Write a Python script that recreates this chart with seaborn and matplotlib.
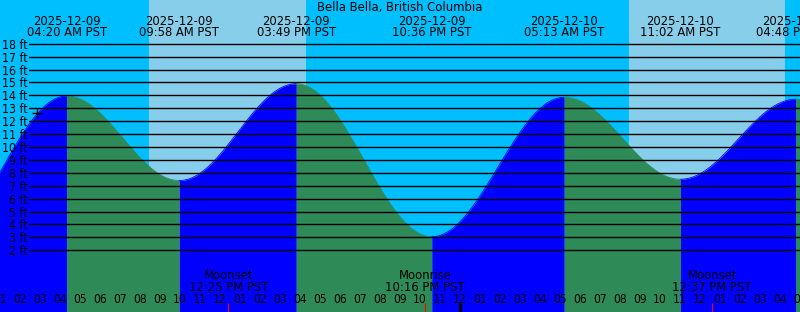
import numpy as np
import pandas as pd
import matplotlib
matplotlib.use("Agg")
import matplotlib.pyplot as plt
from matplotlib import font_manager
import seaborn as sns

# ---------------- data ----------------
station = "Bella Bella, British Columbia"
extreme_times = ["2025-12-08 21:50", "2025-12-09 04:20", "2025-12-09 09:58",
                 "2025-12-09 15:49", "2025-12-09 22:36", "2025-12-10 05:13",
                 "2025-12-10 11:02", "2025-12-10 16:48", "2025-12-10 23:20"]
extreme_heights = [2.6, 13.95, 7.4, 14.9, 3.05, 13.85, 7.5, 13.7, 2.8]
labelled_extremes = [1, 2, 3, 4, 5, 6, 7]
sunrise_times = ["2025-12-09 08:26", "2025-12-10 08:26"]
sunset_times = ["2025-12-09 16:17", "2025-12-10 16:17"]
moon_events = ["Moonset", "Moonrise", "Moonset"]
moon_times = ["2025-12-09 12:25", "2025-12-09 22:16", "2025-12-10 12:37"]
now_time = "2025-12-09 02:51"
now_height = 12.66
ft_levels = list(range(2, 19))
hour_ticks = list(range(1, 42))
midnight_ticks = [24]

# ---------------- helpers ----------------
origin = pd.Timestamp("2025-12-09 00:00")
def hrs(t):
    return (pd.Timestamp(t) - origin) / pd.Timedelta(hours=1)

PX_PER_FT = 12.91
def py(px):  # pixel row -> feet (layout helper)
    return 18 - (px - 43.7) / PX_PER_FT
def pxh(px):  # pixel column -> hours (layout helper)
    return (px + 20.2) / 20.0

NIGHT = "#00BFFF"
DAY = "#87CEEB"
RISE = "#0000FF"
FALL = "#2E8B57"

sns.set_theme(style="white")
plt.rcParams["font.family"] = ["DejaVu Sans"]

condensed = any(f.name == "DejaVu Sans" and f.stretch == "condensed"
                for f in font_manager.fontManager.ttflist)
if condensed:
    STRETCH = "condensed"
    FS_MAIN, FS_HOUR, FS_FT = 9.3, 8.6, 8.8
else:
    STRETCH = "normal"
    FS_MAIN, FS_HOUR, FS_FT = 8.4, 7.8, 8.0

def txt(x, y, s, fs, ha="center"):
    ax.text(x, y, s, ha=ha, va="baseline", fontsize=fs, fontstretch=STRETCH,
            color="black", zorder=4)

fig = plt.figure(figsize=(8, 3.12), dpi=100)
ax = fig.add_axes([0, 0, 1, 1])
ax.set_facecolor(NIGHT)
xlo, xhi = pxh(0), pxh(800)
ylo, yhi = py(312), py(0)
ax.set_xlim(xlo, xhi)
ax.set_ylim(ylo, yhi)
for s in ax.spines.values():
    s.set_visible(False)

# daylight
for sr, ss in zip(sunrise_times, sunset_times):
    ax.axvspan(hrs(sr), hrs(ss), color=DAY, lw=0, zorder=0.5)

# tide curve (cosine interpolation between extrema)
et = np.array([hrs(t) for t in extreme_times])
eh = np.array(extreme_heights)
for i in range(len(et) - 1):
    t = np.linspace(et[i], et[i + 1], 200)
    f = (1 - np.cos(np.pi * (t - et[i]) / (et[i + 1] - et[i]))) / 2
    h = eh[i] + (eh[i + 1] - eh[i]) * f
    col = RISE if eh[i + 1] > eh[i] else FALL
    ax.fill_between(t, h, ylo - 1, color=col, lw=0, zorder=1)
    sns.lineplot(x=t, y=h, color=col, lw=0.6, ax=ax, zorder=1.1, sort=False)

# horizontal grid lines and labels
for lv in ft_levels:
    ax.axhline(lv, xmin=29 / 800, xmax=1, color="black", lw=1.0, zorder=3)
    txt(pxh(27.5), lv - 5.0 / PX_PER_FT, f"{lv} ft", FS_FT, ha="right")

# current time marker
sns.scatterplot(x=[hrs(now_time)], y=[now_height], marker="+", s=60,
                color="black", linewidth=1.0, ax=ax, zorder=5)

# title
txt(pxh(400), py(11.5), station, FS_MAIN)

# extremum labels
for i in labelled_extremes:
    ts = pd.Timestamp(extreme_times[i])
    txt(et[i], py(25.2), ts.strftime("%Y-%m-%d"), FS_MAIN)
    txt(et[i], py(36.2), ts.strftime("%I:%M %p PST"), FS_MAIN)

# moon labels and ticks
for name, mt in zip(moon_events, moon_times):
    x = hrs(mt)
    ts = pd.Timestamp(mt)
    txt(x, py(278.5), name, FS_MAIN)
    txt(x, py(290.8), ts.strftime("%I:%M %p PST"), FS_MAIN)
    ax.plot([x, x], [py(303), ylo], color="red", lw=0.8, zorder=4,
            solid_capstyle="butt")

# hour ticks & labels
ax.set_xticks(hour_ticks)
ax.set_yticks([])
ax.tick_params(axis="x", direction="in", length=6.5, width=0.75, colors="black",
               labelbottom=False, bottom=True)
for h in hour_ticks:
    txt(h, py(302.8), f"{(h - 1) % 12 + 1:02d}", FS_HOUR)
for m in midnight_ticks:
    ax.plot([m, m], [py(303), ylo], color="black", lw=2.2, zorder=4,
            solid_capstyle="butt")

ax.set_xlabel("")
ax.set_ylabel("")
fig.savefig("out.png", dpi=100)
